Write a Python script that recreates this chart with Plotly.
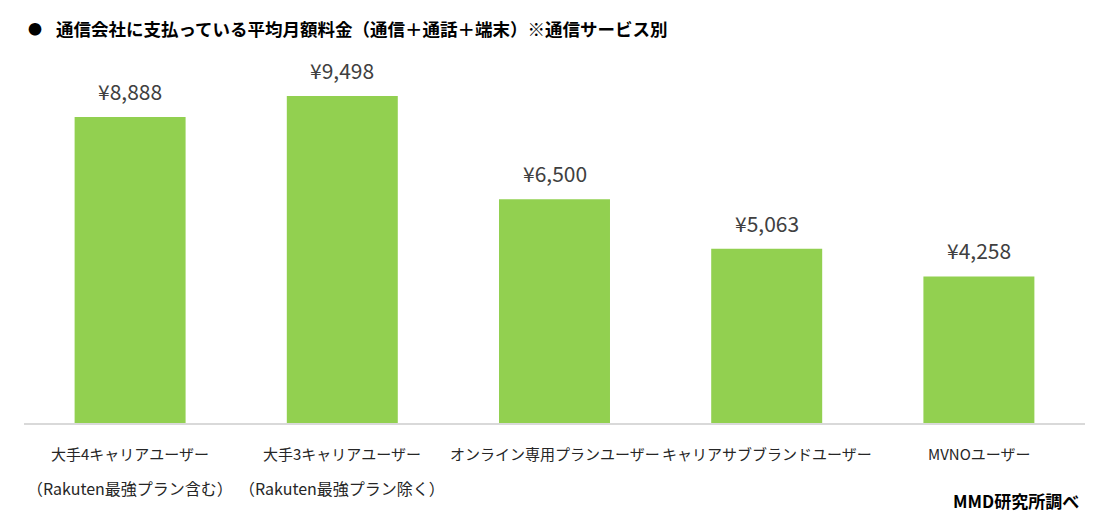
import plotly.graph_objects as go

categories = ["大手4キャリアユーザー", "大手3キャリアユーザー", "オンライン専用プランユーザー",
              "キャリアサブブランドユーザー", "MVNOユーザー"]
sublabels = ["（Rakuten最強プラン含む）", "（Rakuten最強プラン除く）", "", "", ""]
values = [8888, 9498, 6500, 5063, 4258]
value_labels = ["¥8,888", "¥9,498", "¥6,500", "¥5,063", "¥4,258"]

title_text = "通信会社に支払っている平均月額料金（通信＋通話＋端末）※通信サービス別"
source_text = "MMD研究所調べ"

W, H = 1099, 528
L, R, T, B = 24, 14, 60, 105
pw, ph = W - L - R, H - T - B
base_y = H - B

def px(x):
    return (x - L) / pw

def py(y):
    return (base_y - y) / ph

FONT = "Noto Sans CJK JP"

fig = go.Figure()
fig.add_trace(go.Bar(
    x=categories, y=values,
    marker=dict(color="#92D050", line=dict(width=0)),
    hoverinfo="skip",
))

annotations = []
for c, v, lab in zip(categories, values, value_labels):
    annotations.append(dict(
        x=c, y=v, xref="x", yref="y", text=lab, showarrow=False,
        yanchor="bottom", yshift=9,
        font=dict(family=FONT, size=21, color="#404040"),
    ))
for c, s in zip(categories, sublabels):
    annotations.append(dict(
        x=c, y=py(453), xref="x", yref="paper", text=c, showarrow=False,
        yanchor="middle", font=dict(family=FONT, size=15, color="#262626"),
    ))
    if s:
        annotations.append(dict(
            x=c, y=py(488), xref="x", yref="paper", text=s, showarrow=False,
            yanchor="middle", font=dict(family=FONT, size=16, color="#262626"),
        ))
annotations.append(dict(
    x=px(35), y=py(28), xref="paper", yref="paper", text="●", showarrow=False,
    xanchor="center", yanchor="middle", font=dict(family=FONT, size=14, color="#000000"),
))
annotations.append(dict(
    x=px(54), y=py(28), xref="paper", yref="paper", text="<b>" + title_text + "</b>",
    showarrow=False, xanchor="left", yanchor="middle",
    font=dict(family=FONT, size=17.5, color="#000000"),
))
annotations.append(dict(
    x=px(1081), y=py(500), xref="paper", yref="paper", text="<b>" + source_text + "</b>",
    showarrow=False, xanchor="right", yanchor="middle",
    font=dict(family=FONT, size=17, color="#000000"),
))

fig.update_layout(
    width=W, height=H,
    margin=dict(l=L, r=R, t=T, b=B),
    paper_bgcolor="white", plot_bgcolor="white",
    bargap=0.477,
    showlegend=False,
    annotations=annotations,
    xaxis=dict(showticklabels=False, ticks="", showgrid=False, zeroline=False,
               showline=True, linecolor="#D9D9D9", linewidth=2),
    yaxis=dict(range=[0, ph / (306 / 8888)], visible=False, showgrid=False, zeroline=False),
)

fig.write_html("out.html", config={"displayModeBar": False})
